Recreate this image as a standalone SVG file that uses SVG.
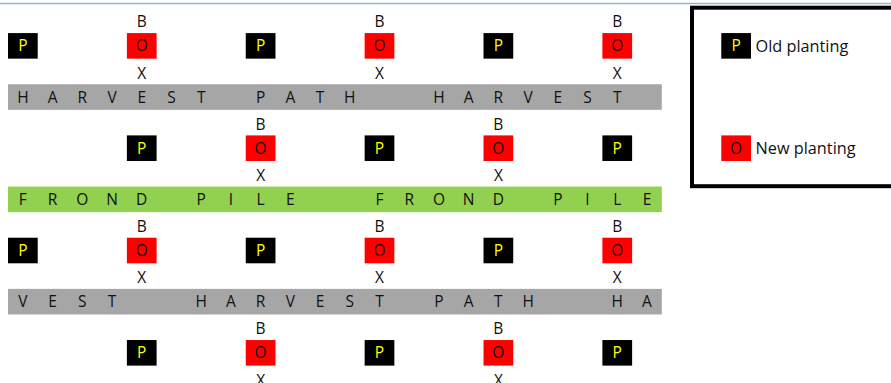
<svg xmlns="http://www.w3.org/2000/svg" width="891" height="383" viewBox="0 0 891 383">
<style>
.t{font-family:"Open Sans","Liberation Sans",sans-serif;font-size:15.5px;fill:#111;text-anchor:middle}
.p{fill:#000}
.o{fill:#ff0000}
.py{fill:#ffff00}
.gray{fill:#a6a6a6}
.green{fill:#92d050}
.lg{font-family:"Open Sans","Liberation Sans",sans-serif;font-size:16.3px;fill:#111}
</style>
<rect x="0" y="0" width="891" height="383" fill="#fff"/>
<line x1="0" y1="3.5" x2="891" y2="3.5" stroke="#8fbcc3" stroke-width="1.5"/>
<g id="connectors"/>

<!-- Row group 1 -->
<g id="p-r1-c0"><rect class="p" x="8" y="33.08" width="29.72" height="25.58"/><text class="t py" x="22.86" y="51.3">P</text></g>
<g id="o-r1-c4"><text class="t" x="141.74" y="27.3">B</text><rect class="o" x="126.88" y="33.08" width="29.72" height="25.58"/><text class="t" x="141.74" y="51.3">O</text><text class="t" x="141.74" y="78.6">X</text></g>
<g id="p-r1-c8"><rect class="p" x="245.76" y="33.08" width="29.72" height="25.58"/><text class="t py" x="260.62" y="51.3">P</text></g>
<g id="o-r1-c12"><text class="t" x="379.5" y="27.3">B</text><rect class="o" x="364.64" y="33.08" width="29.72" height="25.58"/><text class="t" x="379.5" y="51.3">O</text><text class="t" x="379.5" y="78.6">X</text></g>
<g id="p-r1-c16"><rect class="p" x="483.52" y="33.08" width="29.72" height="25.58"/><text class="t py" x="498.38" y="51.3">P</text></g>
<g id="o-r1-c20"><text class="t" x="617.26" y="27.3">B</text><rect class="o" x="602.4" y="33.08" width="29.72" height="25.58"/><text class="t" x="617.26" y="51.3">O</text><text class="t" x="617.26" y="78.6">X</text></g>

<g id="harvest-path-1"><rect class="gray" x="8" y="84.24" width="653.8" height="25.58"/>
<text class="t" y="102.8" x="22.86 52.58 82.3 112.02 141.74 171.46 201.18 260.62 290.34 320.06 349.78 438.94 468.66 498.38 528.1 557.82 587.54 617.26">HARVESTPATHHARVEST</text></g>

<!-- Row group 2 -->
<g id="p-r5-c4"><rect class="p" x="126.88" y="135.4" width="29.72" height="25.58"/><text class="t py" x="141.74" y="153.6">P</text></g>
<g id="o-r5-c8"><text class="t" x="260.62" y="129.6">B</text><rect class="o" x="245.76" y="135.4" width="29.72" height="25.58"/><text class="t" x="260.62" y="153.6">O</text><text class="t" x="260.62" y="180.9">X</text></g>
<g id="p-r5-c12"><rect class="p" x="364.64" y="135.4" width="29.72" height="25.58"/><text class="t py" x="379.5" y="153.6">P</text></g>
<g id="o-r5-c16"><text class="t" x="498.38" y="129.6">B</text><rect class="o" x="483.52" y="135.4" width="29.72" height="25.58"/><text class="t" x="498.38" y="153.6">O</text><text class="t" x="498.38" y="180.9">X</text></g>
<g id="p-r5-c20"><rect class="p" x="602.4" y="135.4" width="29.72" height="25.58"/><text class="t py" x="617.26" y="153.6">P</text></g>

<g id="frond-pile"><rect class="green" x="8" y="186.56" width="653.8" height="25.58"/>
<text class="t" y="205.1" x="22.86 52.58 82.3 112.02 141.74 201.18 230.9 260.62 290.34 379.5 409.22 438.94 468.66 498.38 557.82 587.54 617.26 646.98">FRONDPILEFRONDPILE</text></g>

<!-- Row group 3 -->
<g id="p-r9-c0"><rect class="p" x="8" y="237.72" width="29.72" height="25.58"/><text class="t py" x="22.86" y="255.9">P</text></g>
<g id="o-r9-c4"><text class="t" x="141.74" y="231.9">B</text><rect class="o" x="126.88" y="237.72" width="29.72" height="25.58"/><text class="t" x="141.74" y="255.9">O</text><text class="t" x="141.74" y="283.2">X</text></g>
<g id="p-r9-c8"><rect class="p" x="245.76" y="237.72" width="29.72" height="25.58"/><text class="t py" x="260.62" y="255.9">P</text></g>
<g id="o-r9-c12"><text class="t" x="379.5" y="231.9">B</text><rect class="o" x="364.64" y="237.72" width="29.72" height="25.58"/><text class="t" x="379.5" y="255.9">O</text><text class="t" x="379.5" y="283.2">X</text></g>
<g id="p-r9-c16"><rect class="p" x="483.52" y="237.72" width="29.72" height="25.58"/><text class="t py" x="498.38" y="255.9">P</text></g>
<g id="o-r9-c20"><text class="t" x="617.26" y="231.9">B</text><rect class="o" x="602.4" y="237.72" width="29.72" height="25.58"/><text class="t" x="617.26" y="255.9">O</text><text class="t" x="617.26" y="283.2">X</text></g>

<g id="harvest-path-2"><rect class="gray" x="8" y="288.88" width="653.8" height="25.58"/>
<text class="t" y="307.4" x="22.86 52.58 82.3 112.02 201.18 230.9 260.62 290.34 320.06 349.78 379.5 438.94 468.66 498.38 528.1 617.26 646.98">VESTHARVESTPATHHA</text></g>

<!-- Row group 4 -->
<g id="p-r13-c4"><rect class="p" x="126.88" y="340.04" width="29.72" height="25.58"/><text class="t py" x="141.74" y="358.2">P</text></g>
<g id="o-r13-c8"><text class="t" x="260.62" y="334.2">B</text><rect class="o" x="245.76" y="340.04" width="29.72" height="25.58"/><text class="t" x="260.62" y="358.2">O</text><text class="t" x="260.62" y="385.5">X</text></g>
<g id="p-r13-c12"><rect class="p" x="364.64" y="340.04" width="29.72" height="25.58"/><text class="t py" x="379.5" y="358.2">P</text></g>
<g id="o-r13-c16"><text class="t" x="498.38" y="334.2">B</text><rect class="o" x="483.52" y="340.04" width="29.72" height="25.58"/><text class="t" x="498.38" y="358.2">O</text><text class="t" x="498.38" y="385.5">X</text></g>
<g id="p-r13-c20"><rect class="p" x="602.4" y="340.04" width="29.72" height="25.58"/><text class="t py" x="617.26" y="358.2">P</text></g>

<!-- Legend -->
<g id="legend">
<rect x="692" y="7.7" width="220" height="178.5" fill="none" stroke="#000" stroke-width="4"/>
<rect class="p" x="721.28" y="33.08" width="29.72" height="25.58"/><text class="t py" x="736.14" y="51.3">P</text>
<text class="lg" x="755.5" y="52">Old planting</text>
<rect class="o" x="721.28" y="135.4" width="29.72" height="25.58"/><text class="t" x="736.14" y="153.6">O</text>
<text class="lg" x="755.5" y="154">New planting</text>
</g>
</svg>
